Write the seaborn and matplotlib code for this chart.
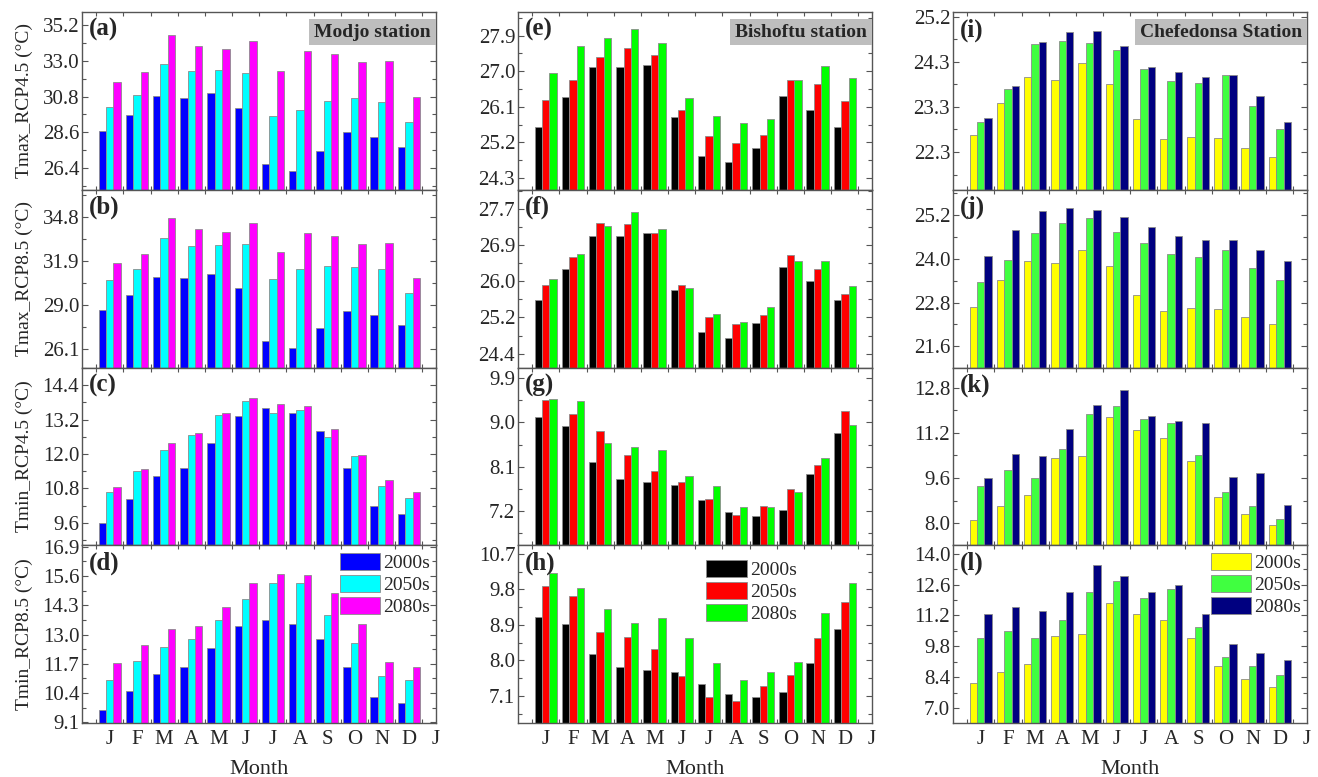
import numpy as np
import pandas as pd
import matplotlib
matplotlib.use("Agg")
import matplotlib.pyplot as plt
import seaborn as sns
from matplotlib.patches import Patch
from matplotlib.ticker import FixedLocator

# ---------------------------------------------------------------- data
months = ["J", "F", "M", "A", "M", "J", "J", "A", "S", "O", "N", "D"]
periods = ["2000s", "2050s", "2080s"]

# Modjo station
a_2000s = [28.69, 29.68, 30.83, 30.73, 31.02, 30.09, 26.65, 26.18, 27.45, 28.63, 28.32, 27.66]
a_2050s = [30.13, 30.92, 32.79, 32.36, 32.44, 32.25, 29.62, 29.95, 30.54, 30.73, 30.44, 29.21]
a_2080s = [31.70, 32.30, 34.58, 33.94, 33.74, 34.23, 32.36, 33.59, 33.45, 32.91, 33.02, 30.75]

b_2000s = [28.65, 29.67, 30.85, 30.74, 31.05, 30.07, 26.61, 26.12, 27.45, 28.61, 28.30, 27.63]
b_2050s = [30.65, 31.38, 33.38, 32.87, 32.91, 33.00, 30.69, 31.34, 31.58, 31.49, 31.34, 29.79]
b_2080s = [31.76, 32.36, 34.69, 34.02, 33.82, 34.36, 32.45, 33.71, 33.56, 33.00, 33.09, 30.78]

c_2000s = [9.60, 10.45, 11.23, 11.53, 12.39, 13.34, 13.61, 13.44, 12.81, 11.53, 10.19, 9.91]
c_2050s = [10.68, 11.42, 12.13, 12.65, 13.38, 13.84, 13.45, 13.55, 12.60, 11.95, 10.87, 10.47]
c_2080s = [10.84, 11.49, 12.37, 12.74, 13.44, 13.96, 13.74, 13.69, 12.89, 11.98, 11.10, 10.66]

d_2000s = [9.65, 10.48, 11.25, 11.56, 12.41, 13.36, 13.64, 13.45, 12.82, 11.56, 10.23, 9.96]
d_2050s = [10.99, 11.82, 12.47, 12.82, 13.67, 14.59, 15.28, 15.28, 13.89, 12.61, 11.18, 10.97]
d_2080s = [11.72, 12.55, 13.24, 13.40, 14.22, 15.28, 15.70, 15.67, 14.84, 13.49, 11.80, 11.55]

# Bishoftu station
e_2000s = [25.60, 26.34, 27.12, 27.11, 27.17, 25.84, 24.85, 24.70, 25.06, 26.38, 26.03, 25.60]
e_2050s = [26.26, 26.78, 27.37, 27.59, 27.41, 26.02, 25.35, 25.19, 25.38, 26.78, 26.67, 26.24]
e_2080s = [26.95, 27.64, 27.84, 28.08, 27.71, 26.33, 25.86, 25.69, 25.80, 26.78, 27.14, 26.83]

f_2000s = [25.63, 26.34, 27.10, 27.09, 27.16, 25.86, 24.90, 24.75, 25.11, 26.39, 26.05, 25.63]
f_2050s = [25.97, 26.60, 27.39, 27.37, 27.16, 25.97, 25.23, 25.08, 25.28, 26.65, 26.33, 25.77]
f_2080s = [26.10, 26.69, 27.33, 27.65, 27.25, 25.90, 25.31, 25.13, 25.46, 26.53, 26.53, 25.94]

g_2000s = [9.10, 8.92, 8.19, 7.86, 7.79, 7.73, 7.42, 7.18, 7.10, 7.23, 7.96, 8.79]
g_2050s = [9.45, 9.17, 8.83, 8.33, 8.02, 7.80, 7.44, 7.12, 7.31, 7.65, 8.13, 9.22]
g_2080s = [9.48, 9.44, 8.58, 8.50, 8.44, 7.92, 7.70, 7.28, 7.28, 7.58, 8.28, 8.95]

h_2000s = [9.11, 8.91, 8.16, 7.84, 7.76, 7.70, 7.39, 7.15, 7.06, 7.19, 7.94, 8.79]
h_2050s = [9.89, 9.62, 8.72, 8.59, 8.30, 7.61, 7.06, 6.97, 7.36, 7.62, 8.57, 9.49]
h_2080s = [10.21, 9.84, 9.29, 8.94, 9.08, 8.57, 7.94, 7.51, 7.71, 7.96, 9.21, 9.97]

# Chefedonsa station
i_2000s = [22.66, 23.36, 23.91, 23.85, 24.21, 23.76, 23.00, 22.57, 22.61, 22.60, 22.38, 22.19]
i_2050s = [22.94, 23.65, 24.61, 24.67, 24.63, 24.48, 24.08, 23.82, 23.78, 23.94, 23.29, 22.80]
i_2080s = [23.03, 23.72, 24.65, 24.88, 24.90, 24.57, 24.13, 24.01, 23.90, 23.95, 23.49, 22.95]

j_2000s = [22.69, 23.41, 23.95, 23.89, 24.25, 23.79, 23.02, 22.58, 22.64, 22.63, 22.40, 22.22]
j_2050s = [23.35, 23.96, 24.70, 24.98, 25.12, 24.73, 24.43, 24.13, 24.06, 24.25, 23.75, 23.42]
j_2080s = [24.08, 24.78, 25.31, 25.39, 25.34, 25.13, 24.86, 24.61, 24.50, 24.51, 24.23, 23.95]

k_2000s = [8.13, 8.62, 8.99, 10.30, 10.39, 11.77, 11.29, 11.02, 10.19, 8.93, 8.32, 7.95]
k_2050s = [9.30, 9.90, 9.60, 10.63, 11.88, 12.16, 11.68, 11.56, 10.42, 9.12, 8.61, 8.16]
k_2080s = [9.59, 10.45, 10.37, 11.35, 12.19, 12.71, 11.80, 11.61, 11.53, 9.64, 9.78, 8.66]

l_2000s = [8.13, 8.63, 9.00, 10.28, 10.37, 11.78, 11.28, 11.01, 10.17, 8.92, 8.30, 7.95]
l_2050s = [10.19, 10.49, 10.19, 10.99, 12.28, 12.78, 11.99, 12.40, 10.69, 9.30, 8.89, 8.50]
l_2080s = [11.28, 11.58, 11.38, 12.28, 13.47, 12.97, 12.28, 12.58, 11.28, 9.89, 9.48, 9.19]

# y tick labels of each panel
a_ticks = ["26.4", "28.6", "30.8", "33.0", "35.2"]
b_ticks = ["26.1", "29.0", "31.9", "34.8"]
c_ticks = ["9.6", "10.8", "12.0", "13.2", "14.4"]
d_ticks = ["9.1", "10.4", "11.7", "13.0", "14.3", "15.6", "16.9"]
e_ticks = ["24.3", "25.2", "26.1", "27.0", "27.9"]
f_ticks = ["24.4", "25.2", "26.0", "26.9", "27.7"]
g_ticks = ["7.2", "8.1", "9.0", "9.9"]
h_ticks = ["7.1", "8.0", "8.9", "9.8", "10.7"]
i_ticks = ["22.3", "23.3", "24.3", "25.2"]
j_ticks = ["21.6", "22.8", "24.0", "25.2"]
k_ticks = ["8.0", "9.6", "11.2", "12.8"]
l_ticks = ["7.0", "8.4", "9.8", "11.2", "12.6", "14.0"]

row_labels = ["Tmax_RCP4.5 (°C)", "Tmax_RCP8.5 (°C)", "Tmin_RCP4.5 (°C)", "Tmin_RCP8.5 (°C)"]
stations = ["Modjo station", "Bishoftu station", "Chefedonsa Station"]

# ---------------------------------------------------------------- styling
sns.set_theme(style="ticks")
plt.rcParams["font.family"] = ["Liberation Serif", "DejaVu Serif"]

palettes = [
    ["#0000FF", "#00FFFF", "#FF00FF"],
    ["#000000", "#FF0000", "#00FF00"],
    ["#FFFF00", "#40FF40", "#000080"],
]

panels = [
    [("a", a_2000s, a_2050s, a_2080s, a_ticks, (25.04, 36.02)),
     ("b", b_2000s, b_2050s, b_2080s, b_ticks, (24.86, 36.58)),
     ("c", c_2000s, c_2050s, c_2080s, c_ticks, (8.82, 15.02)),
     ("d", d_2000s, d_2050s, d_2080s, d_ticks, (9.07, 16.97))],
    [("e", e_2000s, e_2050s, e_2080s, e_ticks, (24.00, 28.50)),
     ("f", f_2000s, f_2050s, f_2080s, f_ticks, (24.08, 28.15)),
     ("g", g_2000s, g_2050s, g_2080s, g_ticks, (6.51, 10.11)),
     ("h", h_2000s, h_2050s, h_2080s, h_ticks, (6.41, 10.92))],
    [("i", i_2000s, i_2050s, i_2080s, i_ticks, (21.49, 25.30)),
     ("j", j_2000s, j_2050s, j_2080s, j_ticks, (21.02, 25.89)),
     ("k", k_2000s, k_2050s, k_2080s, k_ticks, (7.22, 13.51)),
     ("l", l_2000s, l_2050s, l_2080s, l_ticks, (6.32, 14.38))],
]

W, H = 1318, 777
fig = plt.figure(figsize=(W / 100, H / 100), dpi=100)

col_left_px = [82, 518, 953]
ax_w_px = 354
top_px, bottom_px = 12, 723
row_h_px = (bottom_px - top_px) / 4

TICK_FS = 15

for ci in range(3):
    for ri in range(4):
        letter, v0, v1, v2, tick_labels, ylim = panels[ci][ri]
        left = col_left_px[ci] / W
        bottom = 1 - (top_px + (ri + 1) * row_h_px) / H
        ax = fig.add_axes([left, bottom, ax_w_px / W, row_h_px / H])

        df = pd.DataFrame({
            "month": np.tile(np.arange(12), 3),
            "period": np.repeat(periods, 12),
            "value": np.concatenate([v0, v1, v2]),
        })
        sns.barplot(data=df, x="month", y="value", hue="period",
                    hue_order=periods, palette=palettes[ci], width=0.82,
                    edgecolor="#8c8c8c", linewidth=0.6, saturation=1,
                    legend=False, ax=ax)

        ax.set_xlim(-1.02, 12.0)
        ax.set_ylim(*ylim)

        # y ticks evenly spaced between first and last labelled value
        lo, hi = float(tick_labels[0]), float(tick_labels[-1])
        pos = np.linspace(lo, hi, len(tick_labels))
        step = pos[1] - pos[0]
        ax.yaxis.set_major_locator(FixedLocator(pos))
        ax.set_yticklabels(tick_labels)
        minor = np.arange(lo - step / 2, ylim[1], step)
        ax.yaxis.set_minor_locator(FixedLocator(minor))

        # month labels centred on groups, ticks at group boundaries
        ax.set_xticks(np.arange(13))
        ax.set_xticklabels(months + ["J"])
        ax.xaxis.set_minor_locator(FixedLocator(np.arange(-0.5, 12.0, 1.0)))

        ax.tick_params(axis="both", which="both", direction="in",
                       top=True, right=True, labelsize=TICK_FS,
                       color="#555555")
        ax.tick_params(axis="x", which="major", length=0, pad=5)
        ax.tick_params(axis="y", which="major", length=4, width=0.8, pad=2)
        ax.tick_params(axis="both", which="minor", length=3, width=0.8)

        for sp in ax.spines.values():
            sp.set_color("#555555")
            sp.set_linewidth(1.0)

        ax.set_ylabel(row_labels[ri] if ci == 0 else "", fontsize=14, labelpad=7)
        if ri == 3:
            ax.set_xlabel("Month", fontsize=16, labelpad=8)
        else:
            ax.set_xlabel("")
            ax.tick_params(axis="x", labelbottom=False)

        ax.text(0.02, 0.965, f"({letter})", transform=ax.transAxes,
                ha="left", va="top", fontsize=18, fontweight="bold")

        if ri == 0:
            ax.text(0.985, 0.935, stations[ci], transform=ax.transAxes,
                    ha="right", va="top", fontsize=14, fontweight="bold",
                    bbox=dict(facecolor="#bebebe", edgecolor="none",
                              boxstyle="square,pad=0.25"))

        if ri == 3:
            handles = [Patch(facecolor=c, edgecolor="#8c8c8c", linewidth=0.6)
                       for c in palettes[ci]]
            if ci == 1:
                kw = dict(loc="upper left", bbox_to_anchor=(0.515, 0.95))
            else:
                kw = dict(loc="upper right", bbox_to_anchor=(1.0, 0.99))
            ax.legend(handles, periods, frameon=False, fontsize=14,
                      handlelength=2.1, handleheight=1.0, labelspacing=0.13,
                      handletextpad=0.15, borderaxespad=0.2,
                      borderpad=0.1, **kw)

fig.savefig("out.png", dpi=100)
